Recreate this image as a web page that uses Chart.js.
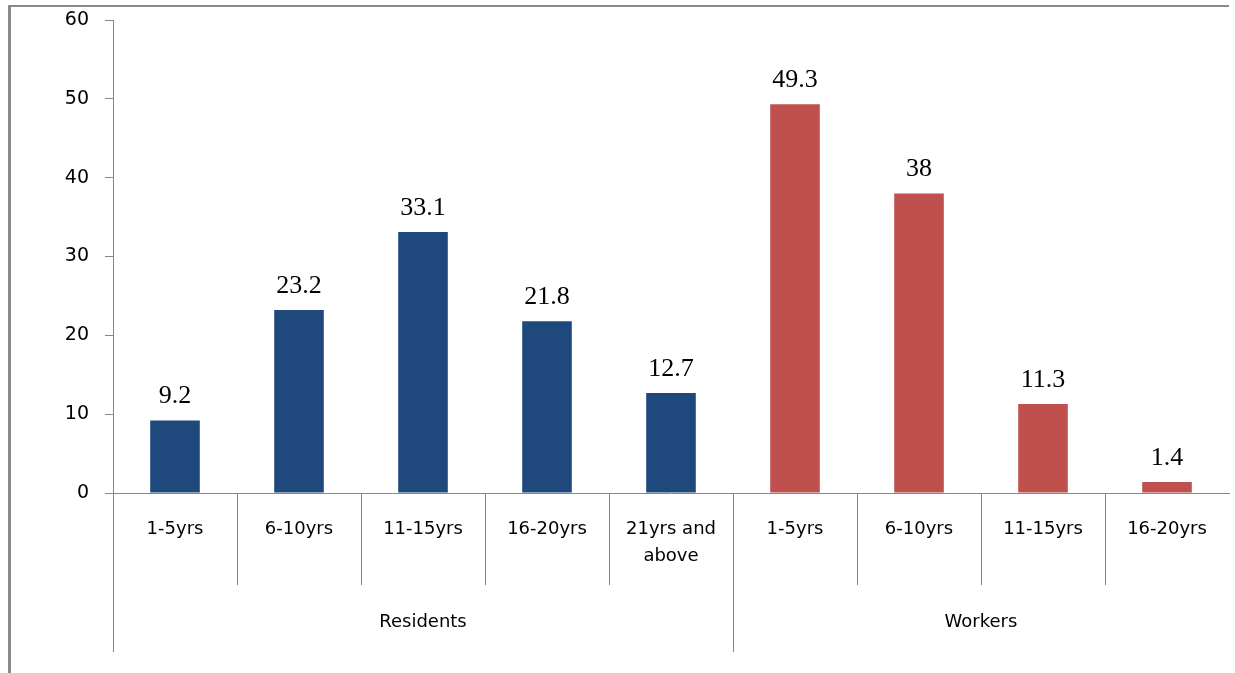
<!DOCTYPE html>
<html>
<head>
<meta charset="utf-8">
<script src="https://cdn.jsdelivr.net/npm/chart.js@4/dist/chart.umd.min.js"></script>
<style>
  html, body { margin: 0; padding: 0; background: #fff; overflow: hidden; }
  #wrap { position: relative; width: 1235px; height: 673px; }
  #frame { position: absolute; left: 8px; top: 5px; width: 1218px; height: 720px;
           border-left: 3px solid #8a8a8a; border-top: 2px solid #8a8a8a; }
  #c { position: absolute; left: 0; top: 0; }
</style>
</head>
<body>
<div id="wrap">
  <div id="frame"></div>
  <canvas id="c" width="1235" height="673"></canvas>
</div>
<script>
// ---- data ----
const residentCategories = ['1-5yrs', '6-10yrs', '11-15yrs', '16-20yrs', ['21yrs and', 'above']];
const residentValues = [9.2, 23.2, 33.1, 21.8, 12.7];
const workerCategories = ['1-5yrs', '6-10yrs', '11-15yrs', '16-20yrs'];
const workerValues = [49.3, 38, 11.3, 1.4];
const groupNames = ['Residents', 'Workers'];
const yTicks = [0, 10, 20, 30, 40, 50, 60];

// ---- styles ----
const BLUE = '#1F497D';
const RED = '#C0504D';
const AXIS = '#868686';

const labels = residentCategories.concat(workerCategories);
const values = residentValues.concat(workerValues);
const colors = residentValues.map(() => BLUE).concat(workerValues.map(() => RED));
const groupSizes = [residentCategories.length, workerCategories.length];

Chart.defaults.font.family = "'DejaVu Sans', sans-serif";
Chart.defaults.color = '#000';

const decorPlugin = {
  id: 'decor',
  afterDraw(chart) {
    const ctx = chart.ctx;
    const xs = chart.scales.x;
    const area = chart.chartArea;
    const n = labels.length;
    const step = (xs.right - xs.left) / n;
    const base = area.bottom;
    ctx.save();
    ctx.strokeStyle = AXIS;
    ctx.lineWidth = 1;
    const groupStarts = [];
    let acc = 0;
    groupSizes.forEach(s => { groupStarts.push(acc); acc += s; });
    for (let i = 0; i < n; i++) {
      const x = Math.round(xs.left + i * step) + 0.5;
      const isGroup = groupStarts.includes(i);
      ctx.beginPath();
      ctx.moveTo(x, base);
      ctx.lineTo(x, base + (isGroup ? 159 : 92));
      ctx.stroke();
    }
    ctx.fillStyle = '#000';
    ctx.font = "18px 'DejaVu Sans'";
    ctx.textAlign = 'center';
    ctx.textBaseline = 'middle';
    groupNames.forEach((name, g) => {
      const start = groupStarts[g];
      const cx = xs.left + (start + groupSizes[g] / 2) * step;
      ctx.fillText(name, cx, base + 129);
    });
    ctx.font = "26px 'Liberation Serif'";
    ctx.textBaseline = 'alphabetic';
    const meta = chart.getDatasetMeta(0);
    meta.data.forEach((bar, i) => {
      ctx.fillText(String(values[i]), bar.x, bar.y - 17);
    });
    ctx.restore();
  }
};

new Chart(document.getElementById('c'), {
  type: 'bar',
  data: {
    labels: labels,
    datasets: [{
      data: values,
      backgroundColor: colors,
      borderWidth: 0,
      barPercentage: 0.4,
      categoryPercentage: 1.0
    }]
  },
  options: {
    responsive: false,
    animation: false,
    devicePixelRatio: 1,
    layout: { padding: { top: 20, right: 6, left: 0, bottom: 0 } },
    plugins: { legend: { display: false }, tooltip: { enabled: false } },
    scales: {
      x: {
        grid: { display: true, drawOnChartArea: false, drawTicks: false, color: 'rgba(0,0,0,0)' },
        border: { display: true, color: AXIS, width: 1 },
        ticks: { font: { size: 18, lineHeight: 1.5 }, color: '#000', padding: 23, maxRotation: 0, autoSkip: false },
        afterFit(scale) { scale.height = 180; scale.paddingLeft = 0; scale.paddingRight = 0; }
      },
      y: {
        min: yTicks[0],
        max: yTicks[yTicks.length - 1],
        grid: { display: true, drawOnChartArea: false, drawTicks: true, tickLength: 8, color: AXIS },
        border: { display: true, color: AXIS, width: 1 },
        ticks: { stepSize: yTicks[1] - yTicks[0], font: { size: 19 }, color: '#000', padding: 16 },
        afterFit(scale) { scale.width = 113; scale.paddingTop = 0; scale.paddingBottom = 0; }
      }
    }
  },
  plugins: [decorPlugin]
});
</script>
</body>
</html>
